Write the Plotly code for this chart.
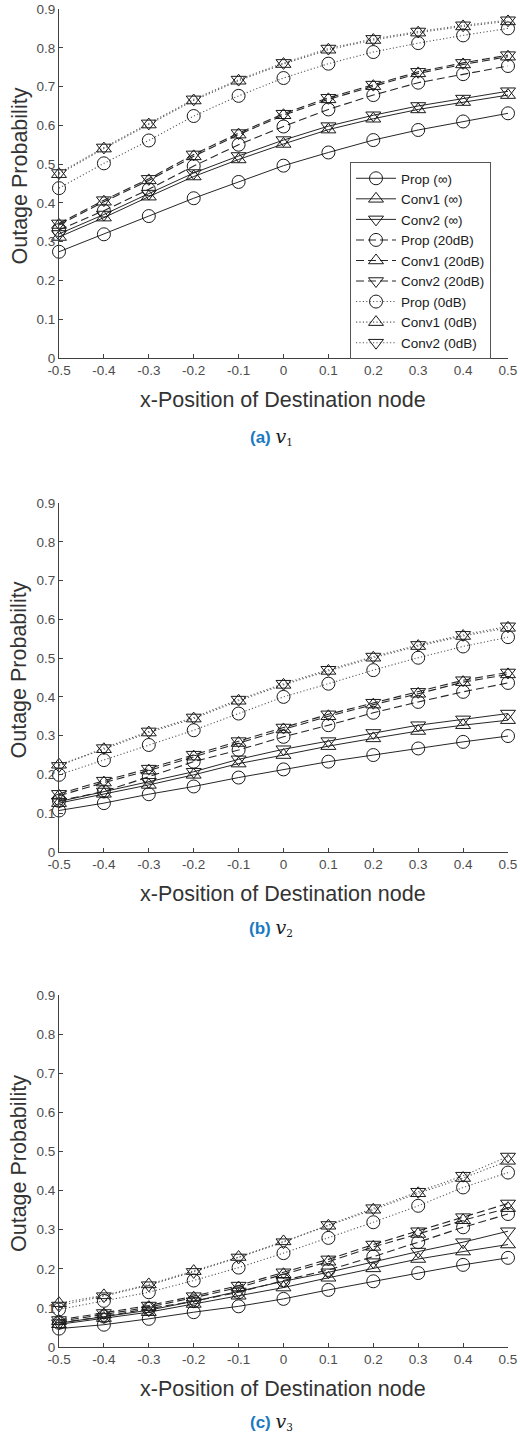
import plotly.graph_objects as go

# ---------------- data ----------------
x_pos = [-0.5, -0.4, -0.3, -0.2, -0.1, 0.0, 0.1, 0.2, 0.3, 0.4, 0.5]
x_tick_labels = ["-0.5", "-0.4", "-0.3", "-0.2", "-0.1", "0", "0.1", "0.2", "0.3", "0.4", "0.5"]
y_tick_vals = [0, 0.1, 0.2, 0.3, 0.4, 0.5, 0.6, 0.7, 0.8, 0.9]
y_tick_labels = ["0", "0.1", "0.2", "0.3", "0.4", "0.5", "0.6", "0.7", "0.8", "0.9"]

series_names = ["Prop (\u221e)", "Conv1 (\u221e)", "Conv2 (\u221e)",
                "Prop (20dB)", "Conv1 (20dB)", "Conv2 (20dB)",
                "Prop (0dB)", "Conv1 (0dB)", "Conv2 (0dB)"]

# panel (a) v1
prop_inf_a = [0.274, 0.319, 0.366, 0.412, 0.454, 0.496, 0.530, 0.562, 0.588, 0.610, 0.631]
conv1_inf_a = [0.312, 0.362, 0.416, 0.468, 0.512, 0.552, 0.589, 0.617, 0.641, 0.660, 0.678]
conv2_inf_a = [0.320, 0.370, 0.424, 0.477, 0.521, 0.562, 0.598, 0.626, 0.650, 0.669, 0.688]
prop_20_a = [0.330, 0.380, 0.435, 0.495, 0.550, 0.597, 0.641, 0.678, 0.710, 0.732, 0.753]
conv1_20_a = [0.343, 0.403, 0.458, 0.520, 0.576, 0.626, 0.667, 0.701, 0.734, 0.757, 0.777]
conv2_20_a = [0.347, 0.407, 0.462, 0.525, 0.580, 0.630, 0.671, 0.705, 0.738, 0.761, 0.781]
prop_0_a = [0.438, 0.502, 0.561, 0.624, 0.676, 0.722, 0.759, 0.789, 0.812, 0.832, 0.850]
conv1_0_a = [0.474, 0.540, 0.602, 0.664, 0.715, 0.758, 0.795, 0.820, 0.839, 0.855, 0.868]
conv2_0_a = [0.477, 0.543, 0.605, 0.667, 0.718, 0.761, 0.798, 0.823, 0.842, 0.858, 0.871]

# panel (b) v2
prop_inf_b = [0.107, 0.126, 0.149, 0.169, 0.192, 0.213, 0.233, 0.250, 0.267, 0.284, 0.299]
conv1_inf_b = [0.126, 0.150, 0.173, 0.199, 0.228, 0.250, 0.273, 0.293, 0.312, 0.327, 0.340]
conv2_inf_b = [0.130, 0.156, 0.181, 0.207, 0.239, 0.265, 0.286, 0.307, 0.327, 0.342, 0.357]
prop_20_b = [0.132, 0.156, 0.194, 0.233, 0.263, 0.297, 0.327, 0.359, 0.387, 0.413, 0.436]
conv1_20_b = [0.145, 0.179, 0.210, 0.246, 0.281, 0.316, 0.350, 0.380, 0.408, 0.438, 0.458]
conv2_20_b = [0.150, 0.184, 0.215, 0.251, 0.286, 0.321, 0.355, 0.385, 0.413, 0.443, 0.463]
prop_0_b = [0.199, 0.237, 0.276, 0.314, 0.357, 0.400, 0.434, 0.469, 0.501, 0.530, 0.554]
conv1_0_b = [0.225, 0.265, 0.308, 0.344, 0.390, 0.431, 0.467, 0.501, 0.531, 0.557, 0.578]
conv2_0_b = [0.222, 0.268, 0.311, 0.347, 0.393, 0.434, 0.470, 0.504, 0.534, 0.560, 0.582]

# panel (c) v3
prop_inf_c = [0.047, 0.057, 0.072, 0.089, 0.104, 0.123, 0.146, 0.168, 0.189, 0.210, 0.228]
conv1_inf_c = [0.058, 0.074, 0.089, 0.110, 0.131, 0.152, 0.177, 0.201, 0.225, 0.244, 0.262]
conv2_inf_c = [0.061, 0.077, 0.094, 0.117, 0.142, 0.168, 0.191, 0.217, 0.244, 0.268, 0.296]
prop_20_c = [0.062, 0.078, 0.098, 0.117, 0.140, 0.170, 0.197, 0.231, 0.268, 0.306, 0.340]
conv1_20_c = [0.066, 0.083, 0.102, 0.126, 0.152, 0.186, 0.218, 0.256, 0.289, 0.324, 0.355]
conv2_20_c = [0.069, 0.087, 0.106, 0.130, 0.157, 0.191, 0.224, 0.262, 0.296, 0.332, 0.367]
prop_0_c = [0.096, 0.118, 0.140, 0.170, 0.203, 0.240, 0.279, 0.319, 0.361, 0.408, 0.446]
conv1_0_c = [0.112, 0.132, 0.160, 0.194, 0.230, 0.270, 0.310, 0.351, 0.393, 0.432, 0.476]
conv2_0_c = [0.106, 0.130, 0.158, 0.192, 0.229, 0.268, 0.312, 0.355, 0.397, 0.438, 0.487]

captions = ["(a)", "(b)", "(c)"]
caption_subs = ["1", "2", "3"]

panels = [
    [prop_inf_a, conv1_inf_a, conv2_inf_a, prop_20_a, conv1_20_a, conv2_20_a, prop_0_a, conv1_0_a, conv2_0_a],
    [prop_inf_b, conv1_inf_b, conv2_inf_b, prop_20_b, conv1_20_b, conv2_20_b, prop_0_b, conv1_0_b, conv2_0_b],
    [prop_inf_c, conv1_inf_c, conv2_inf_c, prop_20_c, conv1_20_c, conv2_20_c, prop_0_c, conv1_0_c, conv2_0_c],
]

# ---------------- styles ----------------
W, H = 520, 1432
ML, MR, MT, MB = 59, 12, 9, 85
PH = H - MT - MB
FONT = "Liberation Sans, Arial, sans-serif"
AX_COL = "#404040"

symbols = ["circle-open", "triangle-up-open", "triangle-down-open"] * 3
line_styles = [
    dict(color="#262626", width=1, dash="solid"),
] * 3 + [
    dict(color="#262626", width=1.1, dash="8px,4px"),
] * 3 + [
    dict(color="#5a5a5a", width=1.1, dash="1.2px,2.2px"),
] * 3
marker_col = "#1a1a1a"

# panel pixel extents (top, bottom) and caption centres
panel_px = [(9, 358), (503, 852), (995, 1347)]
caption_px = [436, 927, 1421]


def py(px):
    return 1 - (px - MT) / PH


def pxx(px):
    return (px - ML) / (W - ML - MR)


fig = go.Figure()
layout_axes = {}
annotations = []

for p, data in enumerate(panels):
    xa = "x" if p == 0 else f"x{p+1}"
    ya = "y" if p == 0 else f"y{p+1}"
    for i, vals in enumerate(data):
        fig.add_trace(go.Scatter(
            x=x_pos, y=vals, mode="lines+markers", name=series_names[i],
            legendgroup=series_names[i], showlegend=(p == 0),
            line=line_styles[i],
            marker=dict(symbol=symbols[i], size=13, color=marker_col,
                        line=dict(width=1, color=marker_col)),
            cliponaxis=False, xaxis=xa, yaxis=ya,
        ))
    top, bot = panel_px[p]
    xkey = "xaxis" if p == 0 else f"xaxis{p+1}"
    ykey = "yaxis" if p == 0 else f"yaxis{p+1}"
    layout_axes[xkey] = dict(
        domain=[0, 1], anchor=ya, range=[-0.5, 0.5],
        tickvals=x_pos, ticktext=x_tick_labels,
        ticks="inside", ticklen=4, tickcolor=AX_COL,
        showline=True, linecolor=AX_COL, linewidth=1,
        showgrid=False, zeroline=False,
        tickfont=dict(family=FONT, size=13.5, color="#4d4d4d"),
    )
    layout_axes[ykey] = dict(
        domain=[py(bot), py(top)], anchor=xa, range=[0, 0.9],
        tickvals=y_tick_vals, ticktext=y_tick_labels,
        ticks="inside", ticklen=4, tickcolor=AX_COL,
        showline=True, linecolor=AX_COL, linewidth=1,
        showgrid=False, zeroline=False,
        tickfont=dict(family=FONT, size=13.5, color="#4d4d4d"),
    )
    # x axis title
    annotations.append(dict(
        text="x-Position of Destination node", xref="paper", yref="paper",
        x=pxx(283), y=py(bot + 42), xanchor="center", yanchor="middle",
        showarrow=False, font=dict(family=FONT, size=21.5, color="#333333"),
    ))
    # y axis title
    annotations.append(dict(
        text="Outage Probability", xref="paper", yref="paper",
        x=pxx(19), y=py((top + bot) / 2 - 7), xanchor="center", yanchor="middle",
        textangle=-90, showarrow=False,
        font=dict(family=FONT, size=21.5, color="#333333"),
    ))
    # caption
    annotations.append(dict(
        text=(f"<b><span style='color:#1a7abf'>{captions[p]}</span></b> "
              f"<span style='font-family:DejaVu Serif, serif;font-size:19px'><i>v</i></span>"
              f"<span style='font-family:DejaVu Serif, serif;font-size:15px'><sub>{caption_subs[p]}</sub></span>"),
        xref="paper", yref="paper",
        x=pxx(271), y=py(caption_px[p]), xanchor="center", yanchor="middle",
        showarrow=False, font=dict(family=FONT, size=17, color="#1a1a1a"),
    ))

fig.update_layout(
    width=W, height=H,
    margin=dict(l=ML, r=MR, t=MT, b=MB, autoexpand=False),
    paper_bgcolor="white", plot_bgcolor="white",
    showlegend=True,
    legend=dict(
        x=pxx(350), y=py(162), xanchor="left", yanchor="top",
        bgcolor="white", bordercolor="#555555", borderwidth=1,
        font=dict(family=FONT, size=13.5, color="#1a1a1a"),
        itemwidth=40, tracegroupgap=0,
    ),
    annotations=annotations,
    **layout_axes,
)

fig.write_html("out.html")
